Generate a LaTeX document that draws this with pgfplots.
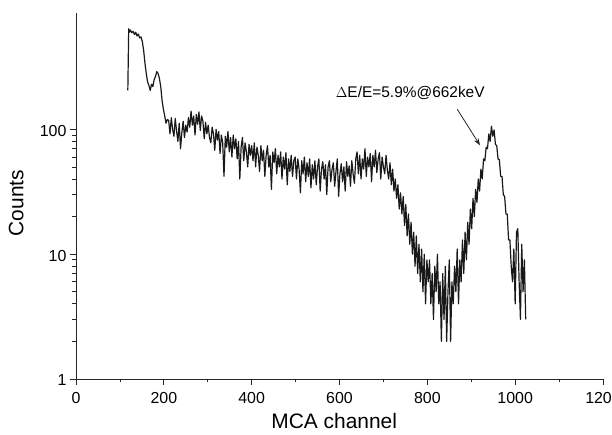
\documentclass[border=0pt]{standalone}
\usepackage{pgfplots}
\pgfplotsset{compat=1.18}
\usepackage{fontspec}
\setmainfont{Liberation Sans}
\usetikzlibrary{arrows.meta}
\begin{document}
\begin{tikzpicture}
\begin{axis}[
  at={(0,0)}, anchor=south west,
  scale only axis, width=527bp, height=366.3bp,
  xmin=0, xmax=1200, ymin=1, ymax=860,
  ymode=log,
  axis x line*=bottom, axis y line*=left,
  axis line style={black!85, line width=0.9bp},
  every tick/.style={black!85, line width=0.8bp},
  tick align=outside,
  major tick length=6bp, minor tick length=3.5bp,
  xtick={0,200,...,1200}, minor x tick num=1,
  ytick={1,10,100}, yticklabels={1,10,100},
  /pgf/number format/assume math mode=true,
  /pgf/number format/set thousands separator={},
  ticklabel style={font=\fontsize{16}{18}\selectfont},
  xticklabel style={yshift=-4bp},
  yticklabel style={yshift=-1.5bp},
  xlabel={MCA channel}, ylabel={Counts},
  xlabel style={font=\fontsize{21}{24}\selectfont, at={(axis description cs:0.49,-0.093)}, anchor=north, inner sep=0pt},
  ylabel style={font=\fontsize{21}{24}\selectfont, at={(axis description cs:-0.099,0.48)}, anchor=south, inner sep=0pt},
  clip=false,
]
\addplot[black!90, line width=1.2bp, line join=round] coordinates {
(118,205)(120,640)(122,600)(124,625)(127,595)(130,610)(133,575)(136,600)(139,560)(142,580)(145,540)
(148,550)(151,505)(154,430)(157,340)(160,280)(163,240)(166,225)(169,205)(172,230)(175,220)
(178,250)(181,265)(184,290)(187,280)(190,255)(193,220)(196,170)(199,145)(202,128)(205,112)(208,120)
(211,118)(214,92)(217,124)(220,100)(223,88)(226,122)(229,97)(232,80)(235,112)(238,70)
(241,94)(244,116)(247,86)(250,108)(253,95)(256,124)(259,104)(262,140)(265,108)(268,128)
(271,90)(274,132)(277,110)(280,138)(283,98)(286,128)(289,116)(292,84)(295,114)(298,92)
(301,108)(304,86)(307,78)(310,104)(313,92)(316,68)(319,100)(322,82)(325,96)(328,64)
(331,90)(334,78)(337,42)(340,88)(343,72)(346,96)(349,66)(352,86)(355,60)(358,90)
(361,70)(364,84)(367,58)(370,80)(373,40)(376,72)(379,86)(382,56)(385,78)(388,66)
(391,50)(394,76)(397,62)(400,74)
(403,56)(406,78)(409,50)(412,72)(415,62)(418,46)(421,74)(424,56)(427,68)(430,42)
(433,62)(436,74)(439,50)(442,62)(445,33)(448,66)(451,54)(454,70)(457,44)(460,62)
(463,50)(466,66)(469,40)(472,60)(475,48)(478,65)(481,36)(484,58)(487,46)(490,62)
(493,42)(496,56)(499,60)
(502,40)(505,58)(508,48)(511,31)(514,56)(517,44)(520,60)(523,38)(526,54)(529,42)
(532,58)(535,34)(538,52)(541,40)(544,56)(547,36)(550,50)(553,58)(556,32)(559,48)
(562,55)(565,40)(568,52)(571,30)(574,50)(577,56)(580,38)(583,48)(586,54)(589,35)
(592,46)(595,58)(598,29)(601,44)(604,53)(607,38)(610,50)(613,32)(616,55)(619,42)
(622,51)(625,35)(628,56)(631,44)(634,37)(637,58)(640,66)
(643,44)(646,62)(649,40)(652,58)(655,48)(658,70)(661,42)(664,60)(667,50)(670,64)
(673,38)(676,62)(679,50)(682,68)(685,45)(688,58)(691,65)(694,40)(697,60)(700,50)
(703,44)(706,62)(709,47)(712,40)(715,54)(718,36)(721,48)(724,32)
(727,40)(730,28)(733,36)(736,23)(739,31)(742,21)(745,29)(748,17)(751,25)(754,14)
(757,21)(760,12)(763,18)(766,10)(769,15)(772,8)(775,14)(778,7)(781,12)(784,6)
(787,11)(790,5)(793,10)(796,4)(799,9)
(802,6)(805,9)(808,4)(811,7)(814,3)(817,8)(820,5)(823,10)(826,4)(829,6)
(832,2)(835,7)(838,3)(841,8)(844,2)(847,5)(850,9)(853,2)(856,6)(859,4)
(862,8)(865,5)(868,11)(871,4)(874,9)(877,6)(880,13)
(883,7)(886,15)(889,9)(892,18)(895,12)(898,23)(901,16)(904,28)(907,20)(910,33)
(913,26)(916,40)(919,32)(922,48)(925,40)(928,58)(931,56)(934,72)(937,70)(940,92)
(943,80)(946,106)(949,88)(952,99)(955,76)(958,74)(961,58)(964,57)(967,42)(970,42)
(973,30)(976,29)(979,21)(982,21)(985,13)(988,13)(991,8)(994,6)(997,11)(1000,4)
(1003,15)(1006,16)(1009,6)(1012,3)(1015,12)(1018,5)(1021,9)(1024,3)
};
\node[font=\fontsize{15.5}{18}\selectfont, inner sep=0pt] at (axis cs:761,194) {$\Delta$E/E=5.9\%@662keV};
\draw[black!85, line width=0.8bp, -{Stealth[length=7bp,width=5bp]}] (axis cs:868,145) -- (axis cs:920,74.5);
\end{axis}
\pgfresetboundingbox
\useasboundingbox (-76bp,-56bp) rectangle (536bp,379bp);
\end{tikzpicture}
\end{document}
